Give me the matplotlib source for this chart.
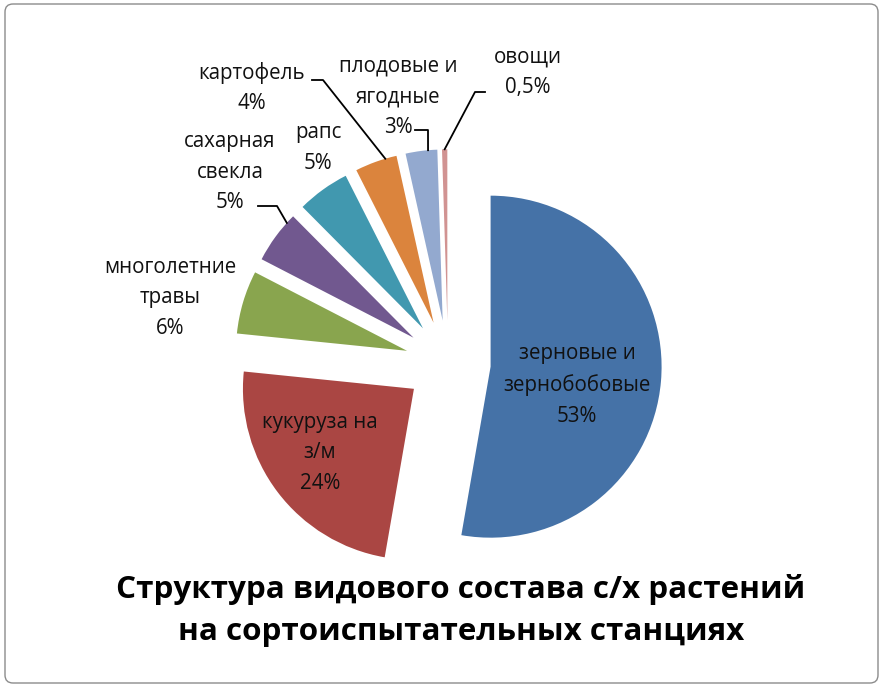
import matplotlib
matplotlib.use("Agg")
import numpy as np
import matplotlib.pyplot as plt
from matplotlib.patches import FancyBboxPatch

plt.rcParams["font.family"] = ["Open Sans", "DejaVu Sans"]

W, H = 883, 686

# данные диаграммы
crops = ["зерновые и\nзернобобовые", "кукуруза на\nз/м", "многолетние\nтравы",
         "сахарная\nсвекла", "рапс", "картофель", "плодовые и\nягодные", "овощи"]
shares = [53, 24, 6, 5, 5, 4, 3, 0.5]
share_labels = ["53%", "24%", "6%", "5%", "5%", "4%", "3%", "0,5%"]
colors = ["#4572A7", "#AA4643", "#89A54E", "#71588F",
          "#4198AF", "#DB843D", "#93A9CF", "#D19392"]

# геометрия в пикселях картинки (от левого верхнего угла)
CX, CY, R = 448, 363, 171


def px(x, y):
    # пиксели -> координаты осей (радиус круга = 1)
    return (x - CX) / R, (CY - y) / R


fig = plt.figure(figsize=(W / 100, H / 100), dpi=100)
ax = fig.add_axes([0, 0, 1, 1])

wedges, _ = ax.pie(shares, colors=colors, startangle=90, counterclock=False,
                   explode=[0.25] * len(shares), wedgeprops=dict(linewidth=0))
ax.set_xlim(-CX / R, (W - CX) / R)
ax.set_ylim(-(H - CY) / R, CY / R)
ax.set_aspect("equal")
ax.axis("off")

# подписи: позиция центра текста (пиксели)
label_pos = [(577, 385), (320, 453), (170, 298), (230, 172),
             (318, 148), (252, 88), (398, 97), (528, 72)]
for name, lab, (lx, ly) in zip(crops, share_labels, label_pos):
    ax.text(*px(lx, ly), name + "\n" + lab, ha="center", va="center",
            fontsize=14.8, color="#111111", linespacing=1.62)

# выноски: начало и излом (пиксели), конец - точка на дуге сектора
# (доля пути по дуге по часовой стрелке)
leaders = {3: ([(258, 206), (277, 206)], 0.83),
           5: ([(312, 80), (323, 80)], 0.73),
           6: ([(415, 130), (428, 130)], 0.71),
           7: ([(485, 92), (475, 92)], 0.5)}
for i, (pts, t) in leaders.items():
    w = wedges[i]
    tm = np.deg2rad(w.theta2 - t * (w.theta2 - w.theta1))
    ex = w.center[0] + w.r * np.cos(tm)
    ey = w.center[1] + w.r * np.sin(tm)
    xs = [px(*p)[0] for p in pts] + [ex]
    ys = [px(*p)[1] for p in pts] + [ey]
    ax.plot(xs, ys, color="black", lw=1.3)

# рамка области диаграммы
x0, y0 = px(5, 683)
x1, y1 = px(878, 4)
ax.add_patch(FancyBboxPatch((x0, y0), x1 - x0, y1 - y0,
                            boxstyle="round,pad=0,rounding_size=%f" % (8 / R),
                            fill=False, edgecolor="#8c8c8c", lw=1, clip_on=False))

fig.text(461 / W, 1 - 598 / H, "Структура видового состава с/х растений",
         ha="center", va="baseline", fontsize=22.6, fontweight="bold")
fig.text(461 / W, 1 - 640 / H, "на сортоиспытательных станциях",
         ha="center", va="baseline", fontsize=22.6, fontweight="bold")

fig.savefig("out.png", dpi=100)
